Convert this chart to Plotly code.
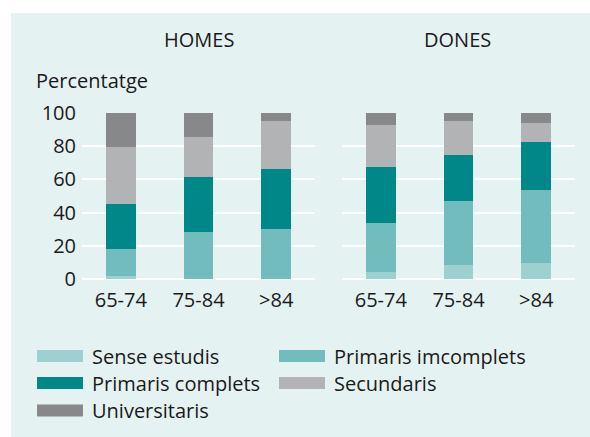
import plotly.graph_objects as go

W, H = 590, 437

age_groups = ["65-74", "75-84", ">84"]
series_names = ["Sense estudis", "Primaris imcomplets", "Primaris complets", "Secundaris", "Universitaris"]
series_colors = ["#9cd1d0", "#72bcbd", "#008787", "#b2b3b5", "#87888a"]

homes_sense = [2, 0, 0]
homes_prim_inc = [16, 28.5, 30]
homes_prim_comp = [27, 33, 36]
homes_secund = [34.5, 24, 29]
homes_univ = [20.5, 14.5, 5]

dones_sense = [4.2, 8.4, 9.6]
dones_prim_inc = [29.5, 38.6, 44]
dones_prim_comp = [33.8, 27.7, 28.9]
dones_secund = [25.3, 20.5, 11.5]
dones_univ = [7.2, 4.8, 6]

y_ticks = [0, 20, 40, 60, 80, 100]

homes = [homes_sense, homes_prim_inc, homes_prim_comp, homes_secund, homes_univ]
dones = [dones_sense, dones_prim_inc, dones_prim_comp, dones_secund, dones_univ]

FONT = "Open Sans"
FS = 20
TXT = "#1a1a1a"

fig = go.Figure()
for name, color, vals in zip(series_names, series_colors, homes):
    fig.add_trace(go.Bar(x=age_groups, y=vals, name=name, marker_color=color,
                         marker_line_width=0, width=0.386, xaxis="x", yaxis="y",
                         showlegend=False, hoverinfo="skip"))
for name, color, vals in zip(series_names, series_colors, dones):
    fig.add_trace(go.Bar(x=age_groups, y=vals, name=name, marker_color=color,
                         marker_line_width=0, width=0.386, xaxis="x2", yaxis="y2",
                         showlegend=False, hoverinfo="skip"))

def px(x):
    return x / W

def py(y):
    return 1 - y / H

ydom = [py(279), py(113)]
axis_common = dict(range=[-0.5, 2.5], showgrid=False, zeroline=False, showline=False,
                   ticks="", tickfont=dict(family=FONT, size=FS, color=TXT), fixedrange=True,
                   automargin=False, ticklabelstandoff=7)
yaxis_common = dict(range=[0, 100], tickvals=y_ticks, showgrid=True, gridcolor="#ffffff",
                    gridwidth=1.5, zeroline=True, zerolinecolor="#ffffff", zerolinewidth=1.5,
                    showline=False, ticks="", tickfont=dict(family=FONT, size=FS, color=TXT),
                    fixedrange=True, domain=ydom, automargin=False)

fig.update_layout(
    width=W, height=H,
    margin=dict(l=0, r=0, t=0, b=0, pad=0, autoexpand=False),
    paper_bgcolor="#ffffff",
    plot_bgcolor="rgba(0,0,0,0)",
    barmode="stack",
    showlegend=False,
    xaxis=dict(domain=[px(82), px(315)], anchor="y", **axis_common),
    xaxis2=dict(domain=[px(342), px(575)], anchor="y2", **axis_common),
    yaxis=dict(anchor="x", ticklabelstandoff=5, **yaxis_common),
    yaxis2=dict(anchor="x2", showticklabels=False, **yaxis_common),
    font=dict(family=FONT, size=FS, color=TXT),
)

shapes = [dict(type="rect", xref="paper", yref="paper", x0=px(11), x1=1, y0=0, y1=py(13),
               fillcolor="#e4f2f1", line_width=0, layer="below")]
annotations = [
    dict(text="HOMES", x=px(198.5), y=py(39), xref="paper", yref="paper",
         showarrow=False, xanchor="center", yanchor="middle", font=dict(family=FONT, size=FS, color=TXT)),
    dict(text="DONES", x=px(457.5), y=py(39), xref="paper", yref="paper",
         showarrow=False, xanchor="center", yanchor="middle", font=dict(family=FONT, size=FS, color=TXT)),
    dict(text="Percentatge", x=px(34), y=py(81), xref="paper", yref="paper",
         showarrow=False, xanchor="left", yanchor="middle", font=dict(family=FONT, size=FS, color=TXT)),
]

# manual legend with wide swatches
legend_pos = [(0, 0), (0, 1), (1, 0), (1, 1), (2, 0)]
row_y = [356, 383, 410.5]
col_sw = [(37, 83), (279, 325)]
col_txt = [90, 332]
for (r, c), name, color in zip(legend_pos, series_names, series_colors):
    y = row_y[r]
    shapes.append(dict(type="rect", xref="paper", yref="paper",
                       x0=px(col_sw[c][0]), x1=px(col_sw[c][1]),
                       y0=py(y + 6), y1=py(y - 6), fillcolor=color, line_width=0, layer="above"))
    annotations.append(dict(text=name, x=px(col_txt[c]), y=py(y), xref="paper", yref="paper",
                            showarrow=False, xanchor="left", yanchor="middle",
                            font=dict(family=FONT, size=FS, color=TXT)))

fig.update_layout(shapes=shapes, annotations=annotations)
fig.write_html("out.html", config={"displayModeBar": False},
               post_script="document.body.style.margin='0';document.body.style.overflow='hidden';")
